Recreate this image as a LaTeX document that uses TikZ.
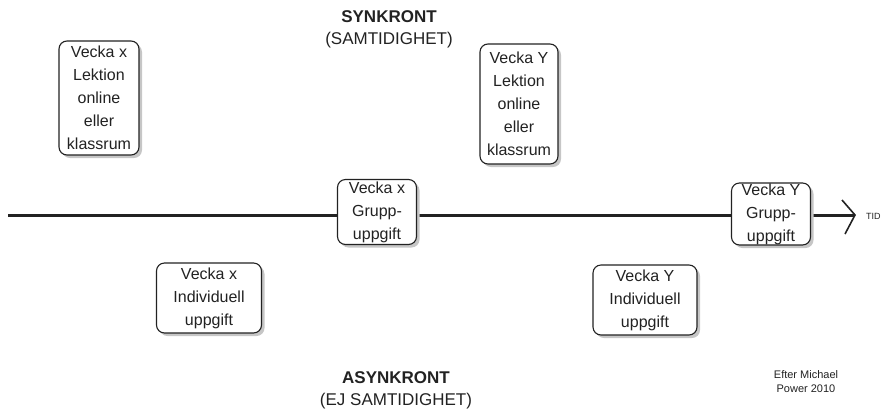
\documentclass[tikz,border=0pt]{standalone}
\usepackage{fontspec}
\setmainfont{Liberation Sans}
\usetikzlibrary{shadows}
\definecolor{ink}{HTML}{222222}
\tikzset{
  wbox/.style={draw=ink, line width=1.1pt, rounded corners=8pt, fill=white, align=center,
    inner sep=0pt, text=ink, font=\fontsize{16}{23}\selectfont,
    drop shadow={shadow xshift=3pt, shadow yshift=-3pt, fill=gray!45, opacity=1}},
  ttl/.style={text=ink, align=center, inner sep=0pt, font=\fontsize{17}{22}\selectfont},
  note/.style={text=ink, align=center, inner sep=0pt, font=\fontsize{11}{14}\selectfont},
  axis/.style={draw=ink, line width=3pt},
  tip/.style={draw=ink, line width=1.6pt}
}
\begin{document}
\begin{tikzpicture}[x=1pt,y=-1pt]
\useasboundingbox (0,0) rectangle (886,408);
\coordinate (start) at (8,215);
\coordinate (end) at (855,215);
\draw[axis] (start) -- (end);
\draw[tip] ([xshift=-13pt,yshift=15pt]end) -- (end) -- ([xshift=-10pt,yshift=-19pt]end);
\node[text=ink, font=\fontsize{9}{10}\selectfont, anchor=west, inner sep=0pt] (tid) at (866,216) {TID};

\node[wbox, minimum width=80pt, minimum height=114pt] (lx) at (99,98) {Vecka x\\Lektion\\online\\eller\\klassrum};
\node[wbox, minimum width=78pt, minimum height=120pt] (ly) at (519,104) {Vecka Y\\Lektion\\online\\eller\\klassrum};
\node[wbox, minimum width=79pt, minimum height=65pt] (gx) at (377,212) {Vecka x\\Grupp-\\uppgift};
\node[wbox, minimum width=79pt, minimum height=62pt] (gy) at (771,214) {Vecka Y\\Grupp-\\uppgift};
\node[wbox, minimum width=105pt, minimum height=70pt] (ix) at (209,298) {Vecka x\\Individuell\\uppgift};
\node[wbox, minimum width=104pt, minimum height=70pt] (iy) at (645,300) {Vecka Y\\Individuell\\uppgift};

\node[ttl] (syn) at (389,29) {\textbf{SYNKRONT}\\(SAMTIDIGHET)};
\node[ttl] (asyn) at (396,390) {\textbf{ASYNKRONT}\\(EJ SAMTIDIGHET)};
\node[note] (src) at (806,382) {Efter Michael\\Power 2010};
\end{tikzpicture}
\end{document}
